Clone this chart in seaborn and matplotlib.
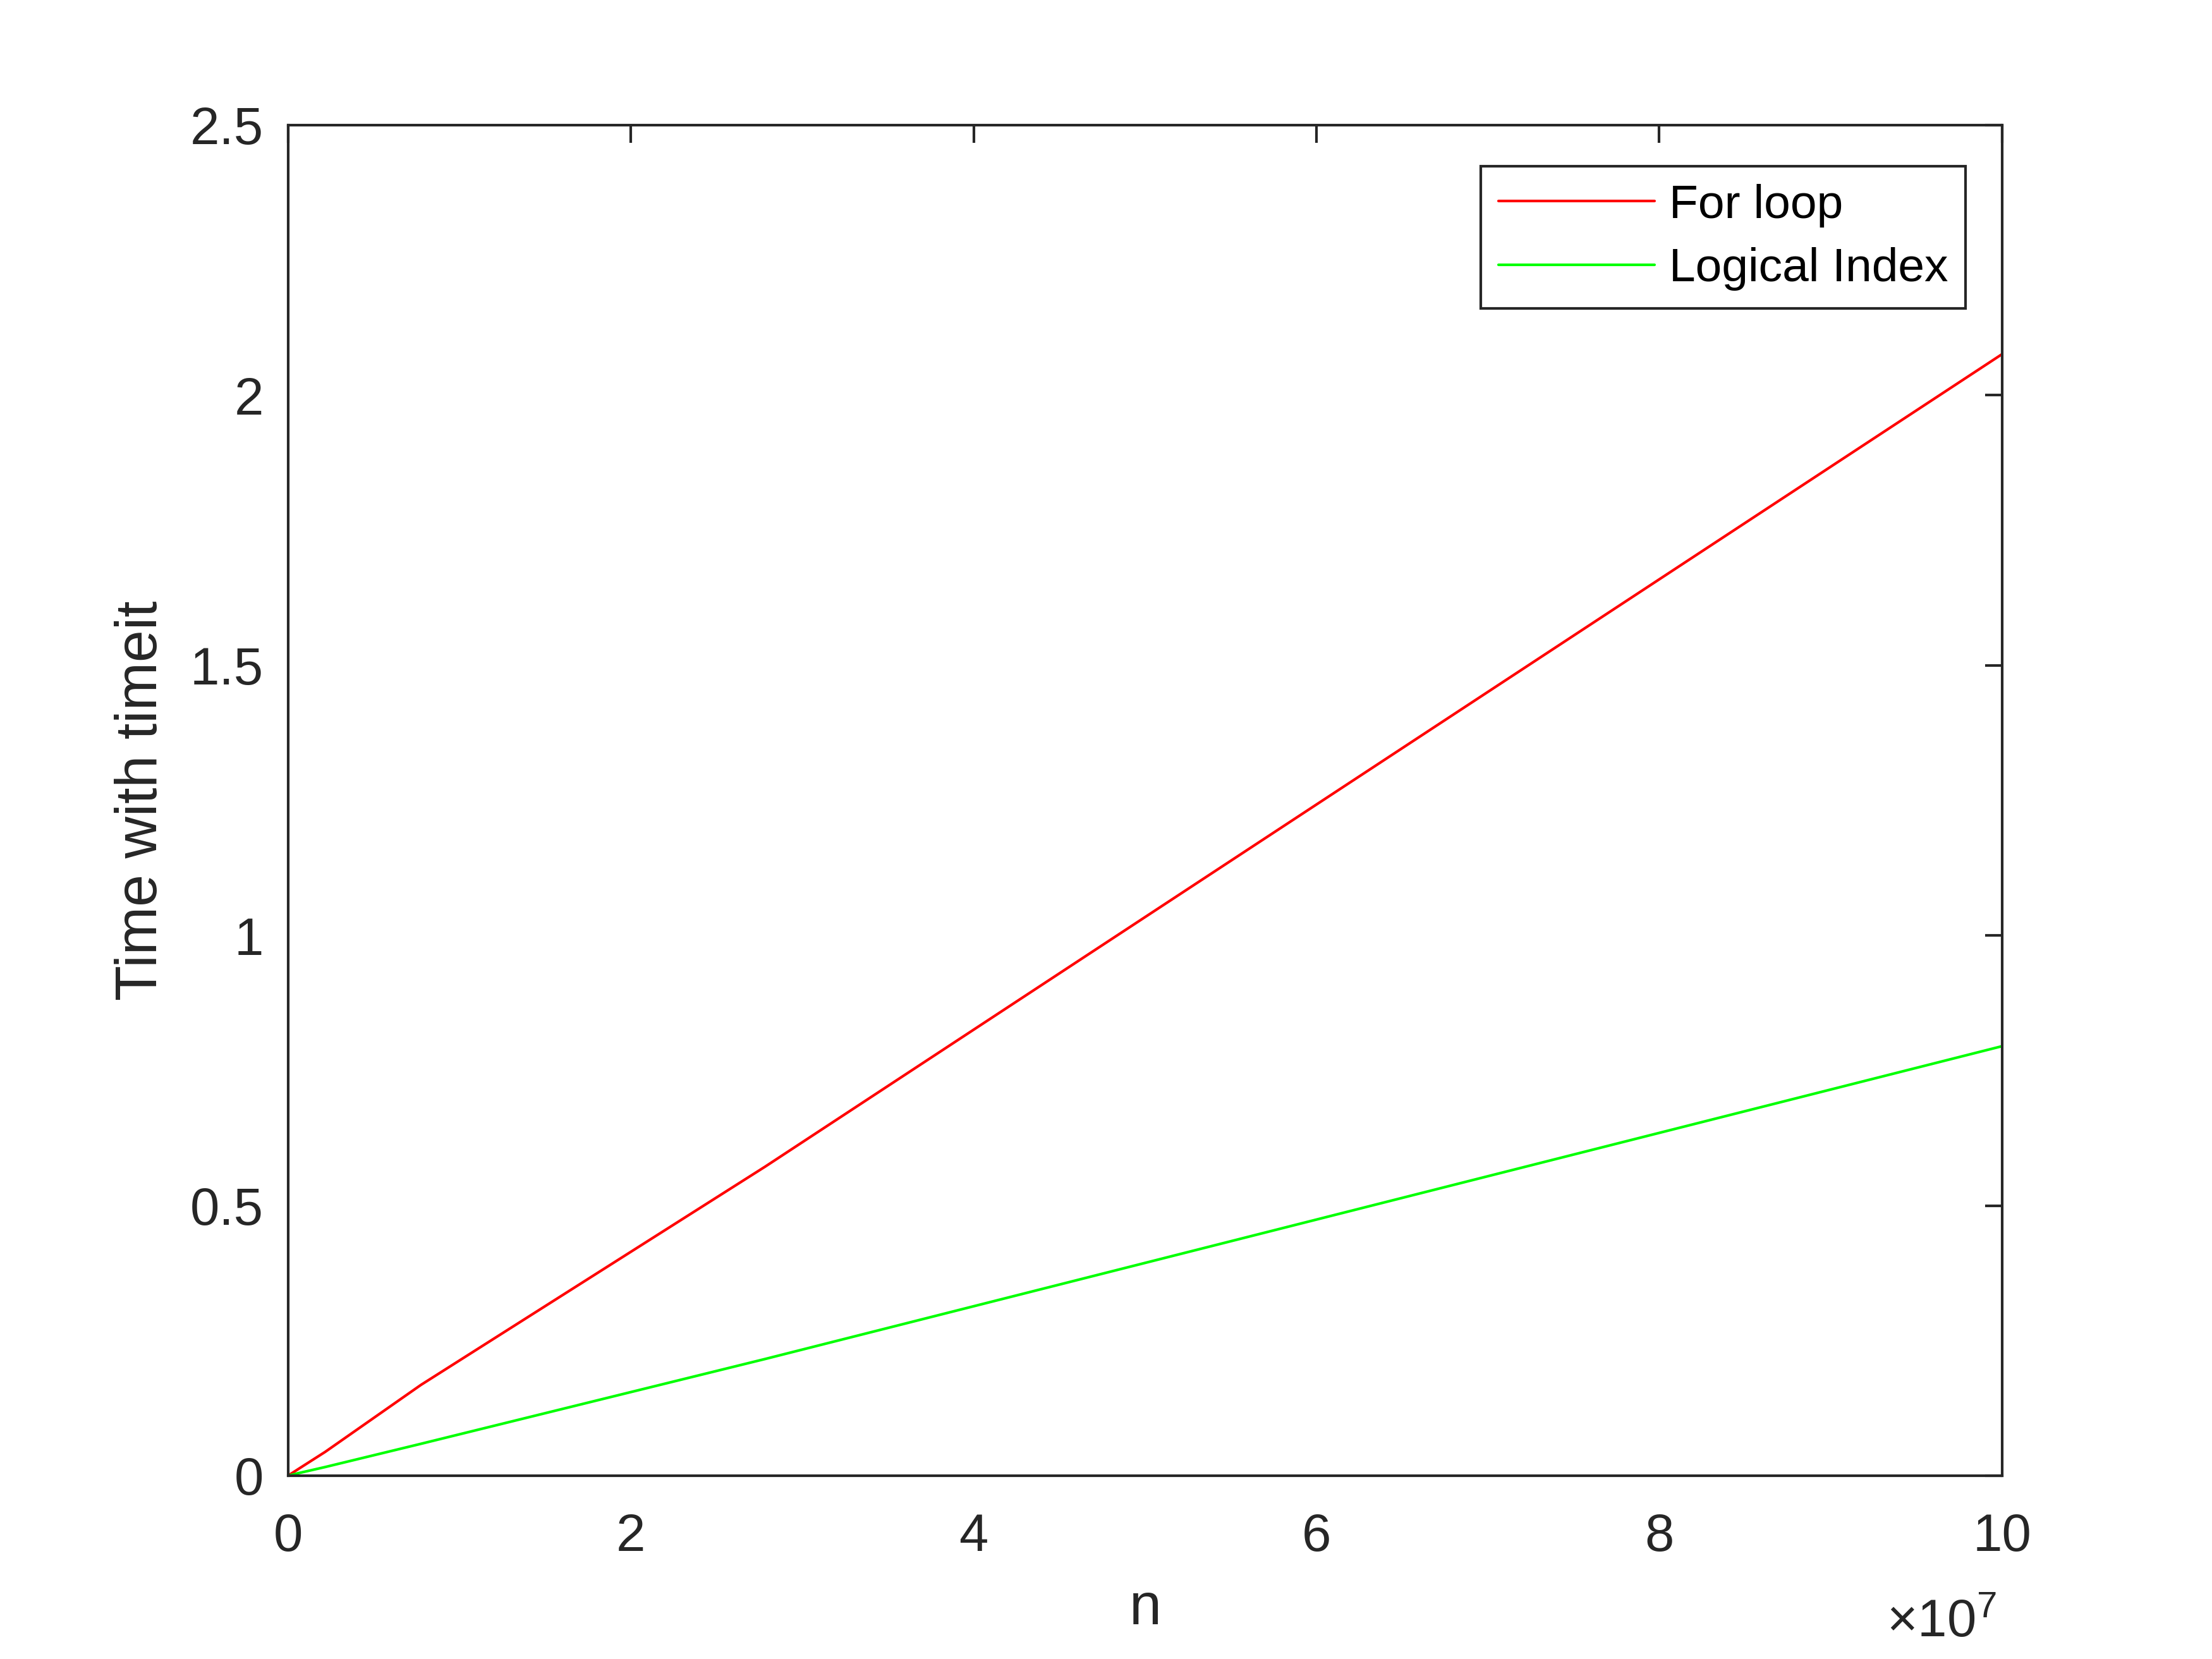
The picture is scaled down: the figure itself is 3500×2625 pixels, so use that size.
import pandas as pd
import seaborn as sns
import matplotlib.pyplot as plt

# problem sizes (logspace 10^3 .. 10^8) and measured times
n = [1000, 3594, 12915, 46416, 166810, 599484, 2154435, 7742637, 27825594, 100000000]
for_loop = [0.00002, 0.00008, 0.0003, 0.001, 0.0036, 0.0125, 0.044, 0.168, 0.572, 2.076]
logical_index = [0.00001, 0.00003, 0.0001, 0.00036, 0.0013, 0.0047, 0.016, 0.059, 0.216, 0.795]
methods = ["For loop", "Logical Index"]
colors = ["#ff0000", "#00ff00"]

x_ticks = [0, 2e7, 4e7, 6e7, 8e7, 1e8]
x_tick_labels = ["0", "2", "4", "6", "8", "10"]
y_ticks = [0, 0.5, 1, 1.5, 2, 2.5]
y_tick_labels = ["0", "0.5", "1", "1.5", "2", "2.5"]

df = pd.DataFrame({
    "n": n + n,
    "time": for_loop + logical_index,
    "method": [methods[0]] * len(n) + [methods[1]] * len(n),
})

sns.set_theme(style="white")
plt.rcParams["font.family"] = ["Liberation Sans", "DejaVu Sans"]
plt.rcParams["mathtext.fontset"] = "custom"
plt.rcParams["mathtext.rm"] = "Liberation Sans"
plt.rcParams["mathtext.it"] = "Liberation Sans:italic"

dark = "#262626"

fig = plt.figure(figsize=(3500 / 600, 2625 / 600), dpi=600)
ax = fig.add_axes([0.1303, 0.1105, 0.7748, 0.8141])

sns.lineplot(data=df, x="n", y="time", hue="method", palette=dict(zip(methods, colors)),
             estimator=None, linewidth=0.5, ax=ax)

ax.set_xlim(0, 1e8)
ax.set_ylim(0, 2.5)
ax.set_xticks(x_ticks)
ax.set_xticklabels(x_tick_labels)
ax.set_yticks(y_ticks)
ax.set_yticklabels(y_tick_labels)

for s in ax.spines.values():
    s.set_linewidth(0.5)
    s.set_color(dark)
    s.set_visible(True)

ax.tick_params(axis="both", direction="in", length=3.3, width=0.5, color=dark,
               labelcolor=dark, labelsize=10, top=True, right=True)
ax.tick_params(axis="x", pad=7)
ax.tick_params(axis="y", pad=4.7)

ax.set_xlabel("n", fontsize=11, color=dark, labelpad=3.8)
ax.set_ylabel("Time with timeit", fontsize=11, color=dark, labelpad=4)

fig.text(0.9025, 0.0133, r"$\times10^{7}$", ha="right", va="baseline", fontsize=10, color=dark)

handles, labels = ax.get_legend_handles_labels()
leg = ax.legend(handles, labels, loc="upper right", bbox_to_anchor=(0.9786, 0.9696),
                borderaxespad=0, fontsize=9, frameon=True, fancybox=False, framealpha=1,
                handlelength=3.3, handletextpad=0.3, borderpad=0.37, labelspacing=0.42)
leg.get_frame().set_edgecolor(dark)
leg.get_frame().set_linewidth(0.5)
for t in leg.get_texts():
    t.set_color("black")
for h in leg.get_lines():
    h.set_linewidth(0.5)

fig.savefig("out.png", dpi=600)
